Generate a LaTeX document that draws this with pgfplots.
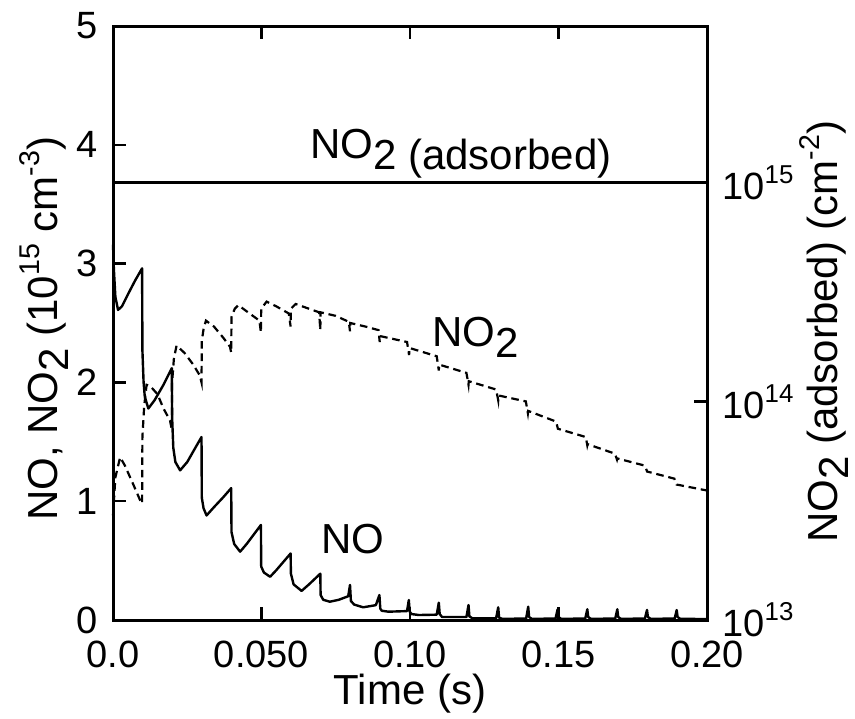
\documentclass[border=0pt]{standalone}
\usepackage{fontspec}
\setmainfont{Liberation Sans}
\usepackage{graphicx}
\usepackage{pgfplots}
\pgfplotsset{compat=1.18}

% subscript lowered at full size, superscript smaller and raised
\newcommand{\lo}[1]{\raisebox{-0.26em}{#1}}
\newcommand{\hi}[1]{\raisebox{0.42em}{\scalebox{0.68}{#1}}}

\pgfplotstableread{
t      no
0      3.16
0.0003 2.95
0.0008 2.72
0.0017 2.61
0.0030 2.64
0.0050 2.74
0.0075 2.86
0.0098 2.96
0.0099 2.27
0.0103 2.00
0.0107 1.88
0.0119 1.78
0.0140 1.85
0.0170 1.98
0.0198 2.12
0.0199 1.71
0.0203 1.45
0.0210 1.33
0.0226 1.26
0.0250 1.33
0.0275 1.44
0.0298 1.54
0.0299 1.03
0.0305 0.94
0.0315 0.88
0.0340 0.95
0.0370 1.03
0.0398 1.11
0.0399 0.74
0.0408 0.64
0.0428 0.575
0.0450 0.64
0.0498 0.80
0.0499 0.45
0.0508 0.40
0.0529 0.364
0.0550 0.42
0.0598 0.56
0.0599 0.39
0.0608 0.30
0.0635 0.245
0.0660 0.30
0.0698 0.39
0.0699 0.21
0.0708 0.17
0.0730 0.154
0.0760 0.17
0.0792 0.20
0.0798 0.295
0.0801 0.16
0.0812 0.13
0.0842 0.107
0.0885 0.125
0.0897 0.21
0.0900 0.095
0.0905 0.078
0.0927 0.070
0.0990 0.075
0.0996 0.168
0.0999 0.070
0.1005 0.050
0.1030 0.042
0.1090 0.045
0.1097 0.146
0.1100 0.050
0.1108 0.025
0.1190 0.025
0.1197 0.126
0.1200 0.030
0.1210 0.015
0.1290 0.015
0.1297 0.107
0.1300 0.020
0.1310 0.010
0.1391 0.012
0.1398 0.112
0.1401 0.025
0.1410 0.010
0.1490 0.012
0.1497 0.090
0.1500 0.025
0.1509 0.010
0.1590 0.012
0.1597 0.090
0.1600 0.025
0.1609 0.010
0.1691 0.012
0.1698 0.090
0.1701 0.025
0.1710 0.010
0.1791 0.012
0.1798 0.085
0.1801 0.025
0.1810 0.010
0.1891 0.012
0.1898 0.084
0.1901 0.025
0.1910 0.010
0.2000 0.008
}\nodata

\pgfplotstableread{
t      notwo
0      0.88
0.0008 1.20
0.0024 1.37
0.0040 1.30
0.0065 1.16
0.0091 1.01
0.0098 0.98
0.0099 1.54
0.0105 1.80
0.0113 1.98
0.0125 1.97
0.0150 1.90
0.0170 1.78
0.0192 1.68
0.0198 1.60
0.0199 2.00
0.0205 2.20
0.0214 2.31
0.0240 2.25
0.0270 2.15
0.0292 2.06
0.0298 2.00
0.0299 2.35
0.0305 2.45
0.0313 2.52
0.0340 2.47
0.0370 2.38
0.0394 2.30
0.0398 2.25
0.0399 2.55
0.0410 2.62
0.0422 2.65
0.0460 2.58
0.0493 2.52
0.0498 2.42
0.0499 2.62
0.0517 2.68
0.0550 2.64
0.0592 2.58
0.0598 2.47
0.0599 2.62
0.0615 2.66
0.0660 2.62
0.0694 2.59
0.0698 2.44
0.0699 2.59
0.0750 2.56
0.0794 2.51
0.0798 2.43
0.0799 2.50
0.0850 2.47
0.0894 2.44
0.0898 2.34
0.0899 2.39
0.0990 2.34
0.0997 2.23
0.0998 2.29
0.1090 2.22
0.1097 2.10
0.1098 2.15
0.1190 2.08
0.1197 1.98
0.1198 2.01
0.1290 1.94
0.1297 1.85
0.1298 1.89
0.1390 1.84
0.1397 1.74
0.1398 1.76
0.1492 1.67
0.1497 1.62
0.1498 1.61
0.1592 1.54
0.1597 1.47
0.1598 1.48
0.1690 1.40
0.1697 1.35
0.1698 1.36
0.1790 1.30
0.1797 1.26
0.1798 1.25
0.1890 1.19
0.1897 1.15
0.1898 1.14
0.2000 1.09
}\notwodata

\begin{document}
\begin{tikzpicture}
% page = axis box plus the margins of the reference
\useasboundingbox (-56.5pt,-49pt) rectangle (371pt,310pt);
\pgfplotsset{
  base/.style={width=297pt,height=297pt,scale only axis,xmin=0,xmax=0.2,
    tick align=inside,major tick length=6.5pt,
    axis line style={line width=1.5pt},
    every tick/.style={line width=1.2pt,black},
    tick label style={font=\fontsize{19}{22}\selectfont,inner sep=0pt},
    clip=false},
}
\begin{axis}[base,ymin=0,ymax=5,
  ytick={0,1,2,3,4,5},yticklabels={0,1,2,3,4,5},ytick pos=left,
  xtick={0,0.05,0.1,0.15,0.2},xticklabels={0.0,0.050,0.10,0.15,0.20},xtick pos=both,
  yticklabel style={anchor=east,xshift=-7.5pt},
  xticklabel style={anchor=north,yshift=-10.5pt},
  xlabel={Time (s)},
  ylabel={NO, NO\lo{2} (10\hi{15} cm\hi{-3})},
  every axis x label/.style={at={(axis description cs:0.5,-0.1425)},anchor=base,inner sep=0pt,font=\fontsize{21}{25}\selectfont},
  every axis y label/.style={at={(axis description cs:-0.094,0.49)},anchor=base,rotate=90,font=\fontsize{21}{25}\selectfont},
]
\addplot[black,line width=1.2pt,line join=round] table[x=t,y=no] {\nodata};
\addplot[black,line width=1.1pt,dash pattern=on 3.8pt off 2.4pt] table[x=t,y=notwo] {\notwodata};
\node[anchor=base west,inner sep=0pt,font=\fontsize{21}{25}\selectfont] at (axis cs:0.0663,3.886) {NO\lo{2 (adsorbed)}};
\node[anchor=base west,inner sep=0pt,font=\fontsize{21}{25}\selectfont] at (axis cs:0.1073,2.30) {NO\lo{2}};
\node[anchor=base west,inner sep=0pt,font=\fontsize{21}{25}\selectfont] at (axis cs:0.0699,0.556) {NO};
\end{axis}
\begin{axis}[base,ymode=log,ymin=1e13,ymax=5.21e15,
  axis y line*=right,axis x line=none,
  ytick={1e13,1e14,1e15},yticklabels={10\hi{13},10\hi{14},10\hi{15}},
  yminorticks=false,
  yticklabel style={anchor=west,xshift=7.5pt},
  ylabel={NO\lo{2} (adsorbed) (cm\hi{-2})},
  every axis y label/.style={at={(axis description cs:1.219,0.485)},anchor=base,rotate=90,font=\fontsize{21}{25}\selectfont},
]
\addplot[black,line width=1.2pt] coordinates {(0,1e15) (0.2,1e15)};
\end{axis}
\end{tikzpicture}
\end{document}
